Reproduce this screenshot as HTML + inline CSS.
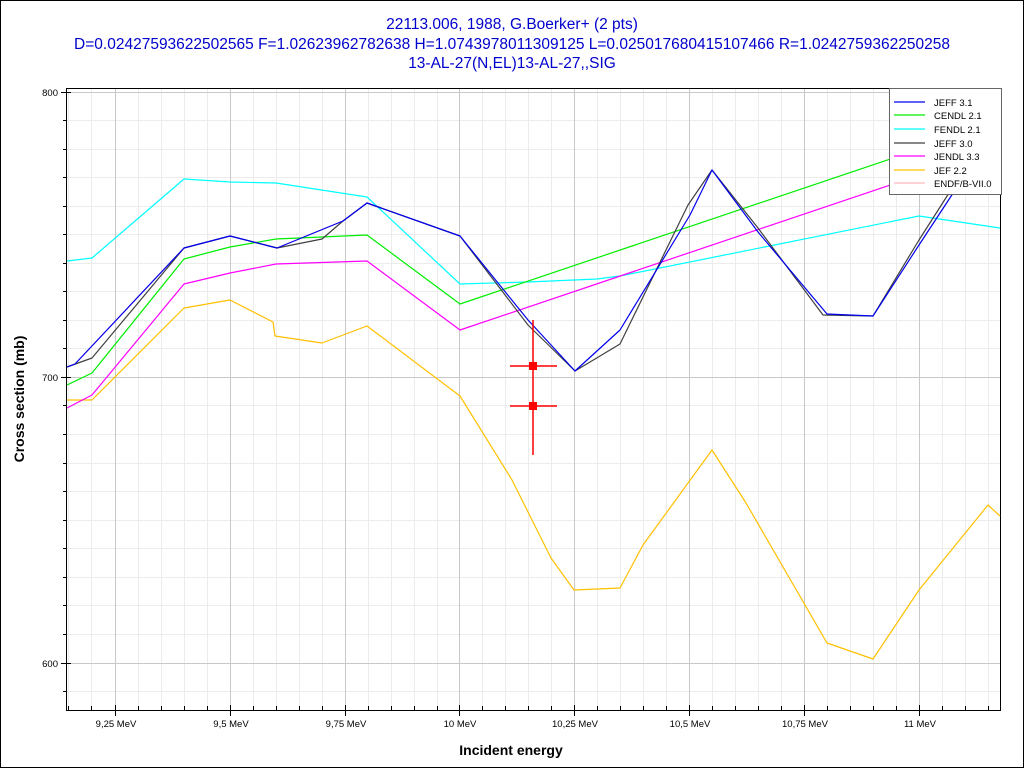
<!DOCTYPE html>
<html><head><meta charset="utf-8"><style>
html,body{margin:0;padding:0;background:#fff}
svg{display:block}
</style></head><body>
<svg width="1024" height="768" xmlns="http://www.w3.org/2000/svg" font-family="Liberation Sans, sans-serif">
<rect x="0.5" y="0.5" width="1023" height="767" fill="#fff" stroke="#000"/>
<g fill="#0000cc" font-size="15.5" text-anchor="middle">
<text x="512" y="29">22113.006, 1988, G.Boerker+ (2 pts)</text>
<text x="512" y="49">D=0.02427593622502565 F=1.02623962782638 H=1.0743978011309125 L=0.025017680415107466 R=1.0242759362250258</text>
<text x="512" y="68">13-AL-27(N,EL)13-AL-27,,SIG</text>
</g>
<g id="grid" stroke="#ececec" stroke-width="1">
<path d="M68.5 88V710M91.5 88V710M138.5 88V710M161.5 88V710M184.5 88V710M207.5 88V710M253.5 88V710M276.5 88V710M299.5 88V710M322.5 88V710M368.5 88V710M391.5 88V710M414.5 88V710M437.5 88V710M482.5 88V710M505.5 88V710M528.5 88V710M551.5 88V710M597.5 88V710M620.5 88V710M643.5 88V710M666.5 88V710M712.5 88V710M735.5 88V710M758.5 88V710M781.5 88V710M827.5 88V710M850.5 88V710M873.5 88V710M896.5 88V710M942.5 88V710M965.5 88V710M988.5 88V710"/>
<path d="M67 120.5H1000M67 149.5H1000M67 177.5H1000M67 206.5H1000M67 234.5H1000M67 263.5H1000M67 291.5H1000M67 320.5H1000M67 348.5H1000M67 405.5H1000M67 434.5H1000M67 463.5H1000M67 491.5H1000M67 520.5H1000M67 548.5H1000M67 577.5H1000M67 605.5H1000M67 634.5H1000M67 691.5H1000"/>
</g>
<g stroke="#c8c8c8" stroke-width="1">
<path d="M115.5 88V710M230.5 88V710M345.5 88V710M459.5 88V710M574.5 88V710M689.5 88V710M804.5 88V710M919.5 88V710"/>
<path d="M67 92.5H1000M67 377.5H1000M67 663.5H1000"/>
</g>
<path d="M1000.5 88V710" stroke="#000"/>
<path d="M67 88.5H1000" stroke="#000"/>
<g fill="none" stroke-width="1.2" stroke-linejoin="round">
<polyline stroke="#ffb6c1" points="67,367 75,364 184,248 230,236 277,248 343,221 367,203 460,236"/>
<polyline stroke="#ffc000" points="67,400 92,400 184,308 230,300 273,322 275,336 322,343 367,326 460,396 512,480 551,558 574,590 620,588 643,545 712,450 746,503 827,643 873,659 919,590 988,505 1000,516"/>
<polyline stroke="#00ffff" points="67,261 92,258 184,179 230,182 276,183 367,197 460,284 528,282 597,279 620,276 919,216 1000,228"/>
<polyline stroke="#ff00ff" points="67,408 92,395 184,284 230,273 276,264 367,261 460,330 1000,148"/>
<polyline stroke="#00ee00" points="67,385 92,373 184,259 230,247 276,239 367,235 460,304 1000,122"/>
<polyline stroke="#404040" points="67,367 92,358 184,248 230,236 277,248 322,239 343,221 367,203 460,236 528,325 575,371 620,344 688,205 712,170 758,228 823,315 873,316 919,240 965,168 1000,112"/>
<polyline stroke="#0000ee" points="67,367 75,364 184,248 230,236 277,248 343,221 367,203 460,236 528,320 575,371 620,330 690,215 712,170 758,232 827,314 873,316 919,245 965,175 1000,118"/>
</g>
<g stroke="#ff0000" stroke-width="1.5">
<path d="M533 320V455M510 366H557M510 406H557"/>
</g>
<rect x="529" y="362" width="8" height="8" fill="#ff0000"/>
<rect x="529" y="402" width="8" height="8" fill="#ff0000"/>
<rect x="889.5" y="88.5" width="112" height="106" fill="#fff" stroke="#666"/>
<g stroke-width="1.3">
<path d="M894 102H925" stroke="#0000ee"/>
<path d="M894 115H925" stroke="#00ee00"/>
<path d="M894 129H925" stroke="#00ffff"/>
<path d="M894 143H925" stroke="#404040"/>
<path d="M894 156H925" stroke="#ff00ff"/>
<path d="M894 170H925" stroke="#ffc000"/>
<path d="M894 183H925" stroke="#ffb6c1"/>
</g>
<g font-size="9.5" fill="#000">
<text x="934" y="106">JEFF 3.1</text>
<text x="934" y="119">CENDL 2.1</text>
<text x="934" y="133">FENDL 2.1</text>
<text x="934" y="147">JEFF 3.0</text>
<text x="934" y="160">JENDL 3.3</text>
<text x="934" y="174">JEF 2.2</text>
<text x="934" y="187">ENDF/B-VII.0</text>
</g>
<g stroke="#000" stroke-width="1">
<path d="M66.5 88V711M66 710.5H1001"/>
<path d="M61 92.5H71M61 377.5H71M61 663.5H71M63 120.5H67M63 149.5H67M63 177.5H67M63 206.5H67M63 234.5H67M63 263.5H67M63 291.5H67M63 320.5H67M63 348.5H67M63 405.5H67M63 434.5H67M63 463.5H67M63 491.5H67M63 520.5H67M63 548.5H67M63 577.5H67M63 605.5H67M63 634.5H67M63 691.5H67"/>
<path d="M115.5 705V716M230.5 705V716M345.5 705V716M459.5 705V716M574.5 705V716M689.5 705V716M804.5 705V716M919.5 705V716"/>
<path d="M68.5 706V710M91.5 706V710M138.5 706V710M161.5 706V710M184.5 706V710M207.5 706V710M253.5 706V710M276.5 706V710M299.5 706V710M322.5 706V710M368.5 706V710M391.5 706V710M414.5 706V710M437.5 706V710M482.5 706V710M505.5 706V710M528.5 706V710M551.5 706V710M597.5 706V710M620.5 706V710M643.5 706V710M666.5 706V710M712.5 706V710M735.5 706V710M758.5 706V710M781.5 706V710M827.5 706V710M850.5 706V710M873.5 706V710M896.5 706V710M942.5 706V710M965.5 706V710M988.5 706V710"/>
</g>
<g font-size="9.5" fill="#000" text-anchor="end">
<text x="58" y="96">800</text>
<text x="58" y="381">700</text>
<text x="58" y="667">600</text>
</g>
<g font-size="9.5" fill="#000" text-anchor="middle">
<text x="116" y="727">9,25 MeV</text>
<text x="231" y="727">9,5 MeV</text>
<text x="346" y="727">9,75 MeV</text>
<text x="460" y="727">10 MeV</text>
<text x="575" y="727">10,25 MeV</text>
<text x="690" y="727">10,5 MeV</text>
<text x="805" y="727">10,75 MeV</text>
<text x="920" y="727">11 MeV</text>
</g>
<text x="511" y="755" font-size="14" font-weight="bold" text-anchor="middle">Incident energy</text>
<text transform="translate(24,399) rotate(-90)" font-size="14" font-weight="bold" text-anchor="middle">Cross section (mb)</text>
</svg>
</body></html>
